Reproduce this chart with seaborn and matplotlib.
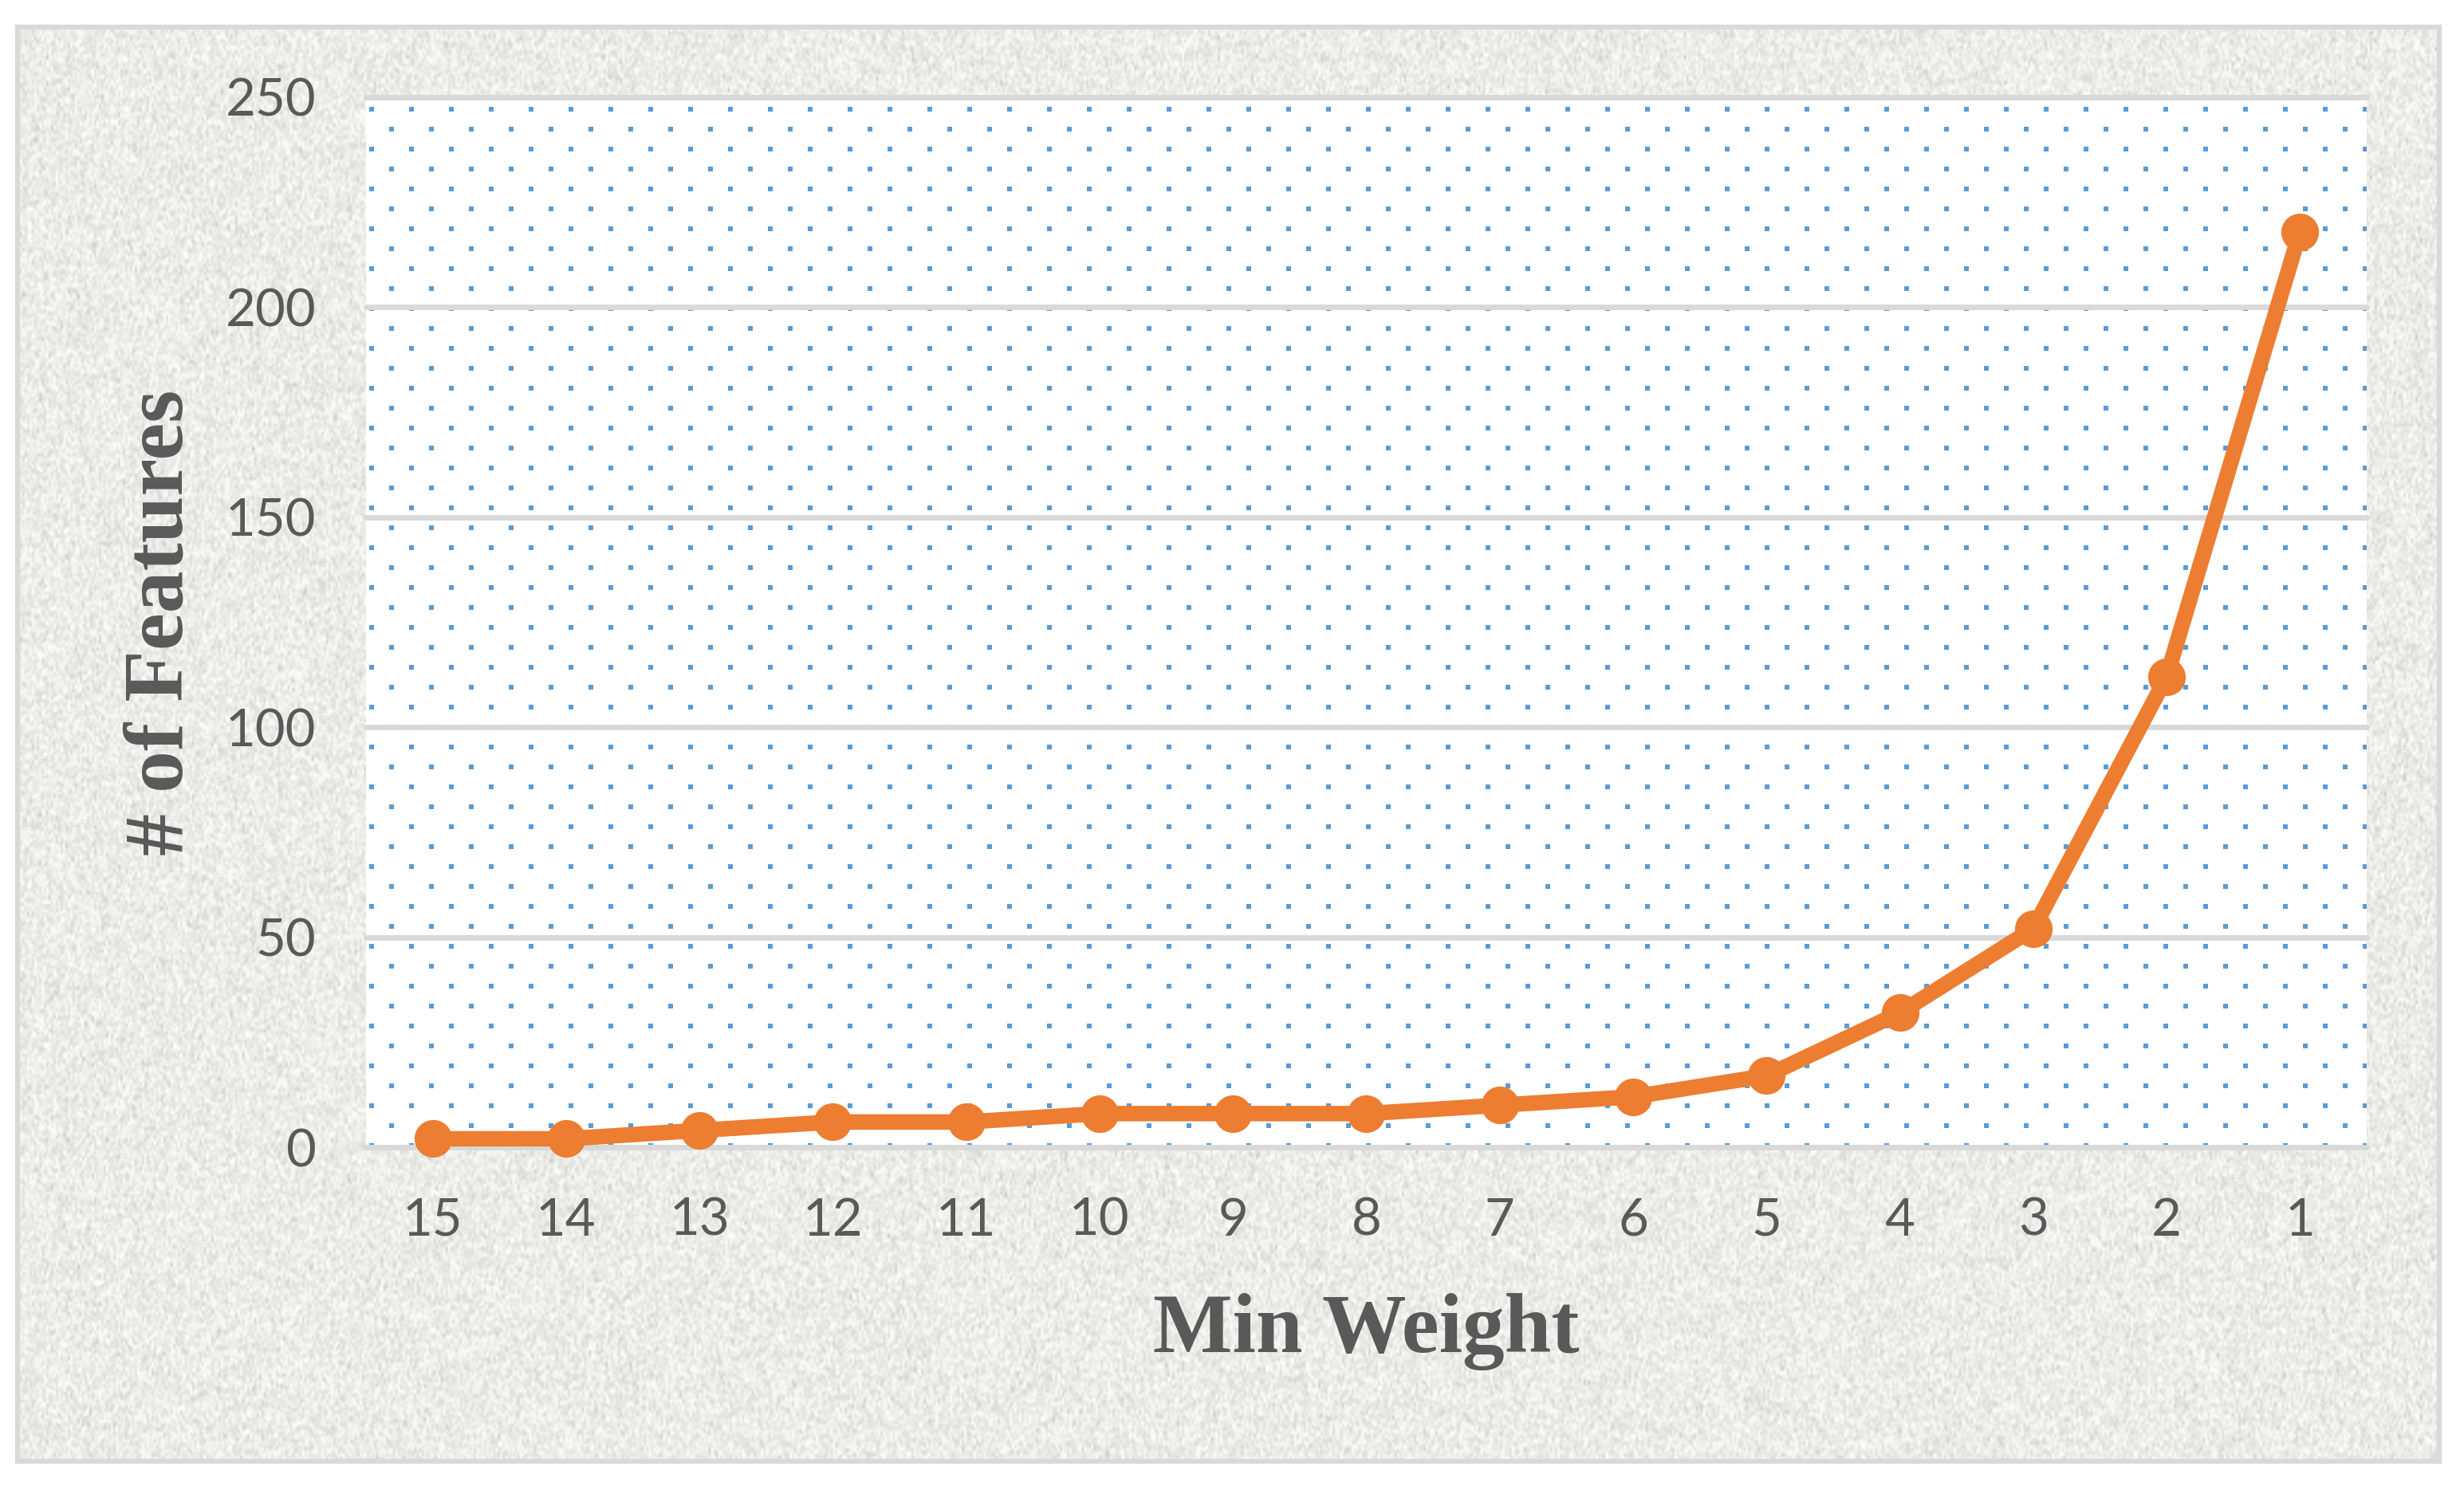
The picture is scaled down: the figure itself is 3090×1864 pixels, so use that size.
import numpy as np
import pandas as pd
import matplotlib
matplotlib.use('Agg')
import matplotlib.pyplot as plt
import seaborn as sns
from matplotlib.patches import Rectangle

# data
min_weight = ['15', '14', '13', '12', '11', '10', '9', '8', '7', '6', '5', '4', '3', '2', '1']
num_features = [2, 2, 4, 6, 6, 8, 8, 8, 10, 12, 17, 32, 52, 112, 218]
y_ticks = [0, 50, 100, 150, 200, 250]

sns.set_style('white')
plt.rcParams['font.family'] = ['Lato', 'DejaVu Sans']

W, H = 3090, 1864
fig = plt.figure(figsize=(W / 100, H / 100), dpi=100)
fig.patch.set_facecolor('white')

# textured chart background with a grey frame
bg = fig.add_axes([0, 0, 1, 1])
bg.axis('off')
rng = np.random.default_rng(3)
grain = rng.normal(0, 1, (900, 1013))
grain = (grain + np.roll(grain, 1, axis=0) + np.roll(grain, 2, axis=0)) / 2.2
tone = np.clip(0.925 + 0.045 * grain, 0.74, 0.985)
tex = np.dstack([tone, tone, tone - 0.015]).clip(0, 1)
bg.imshow(tex, extent=[22, 3059, 1833, 34], interpolation='bilinear', aspect='auto', zorder=0)
bg.add_patch(Rectangle((22, 34), 3037, 1799, fill=False, ec='#d9d9d9', lw=4.5, zorder=1))
bg.set_xlim(0, W)
bg.set_ylim(H, 0)

# plot area
left, right, top, bottom = 459, 2968, 122, 1439
ax = fig.add_axes([left / W, (H - bottom) / H, (right - left) / W, (bottom - top) / H])

df = pd.DataFrame({'Min Weight': min_weight, '# of Features': num_features})
sns.lineplot(data=df, x='Min Weight', y='# of Features', ax=ax, sort=False,
             color='#ed7d31', lw=14, marker='o', markersize=34,
             markeredgewidth=0, zorder=3, clip_on=False)

# dotted pattern fill of the plot area (Excel 5% pattern)
ph, pw = bottom - top, right - left
pattern = np.ones((ph, pw, 3))
blue = np.array([0.357, 0.608, 0.835])
for dy in range(6):
    for dx in range(6):
        pattern[12 + dy::50, 4 + dx::50] = blue
        pattern[37 + dy::50, 29 + dx::50] = blue
ax.imshow(pattern, extent=[-0.5, 14.5, 0, 250], aspect='auto',
          interpolation='nearest', zorder=0)

ax.set_xlim(-0.5, 14.5)
ax.set_ylim(0, 250)
ax.set_yticks(y_ticks)
ax.set_axisbelow(True)
ax.yaxis.grid(True, color='#d9d9d9', lw=5)
ax.xaxis.grid(False)
for gl in ax.get_ygridlines():
    gl.set_clip_on(False)
sns.despine(ax=ax, left=True, bottom=True)
ax.tick_params(length=0, labelsize=47, labelcolor='#595959', pad=45)

lab_font = dict(fontsize=76, fontweight='bold', family=['Liberation Serif', 'DejaVu Serif'],
                color='#595959')
ax.set_xlabel('Min Weight', va='center', **lab_font)
ax.xaxis.set_label_coords(0.5, -0.176)
ax.set_ylabel('# of Features', va='center', **lab_font)
ax.yaxis.set_label_coords(-0.102, 0.5)

fig.savefig('out.png', dpi=100)
